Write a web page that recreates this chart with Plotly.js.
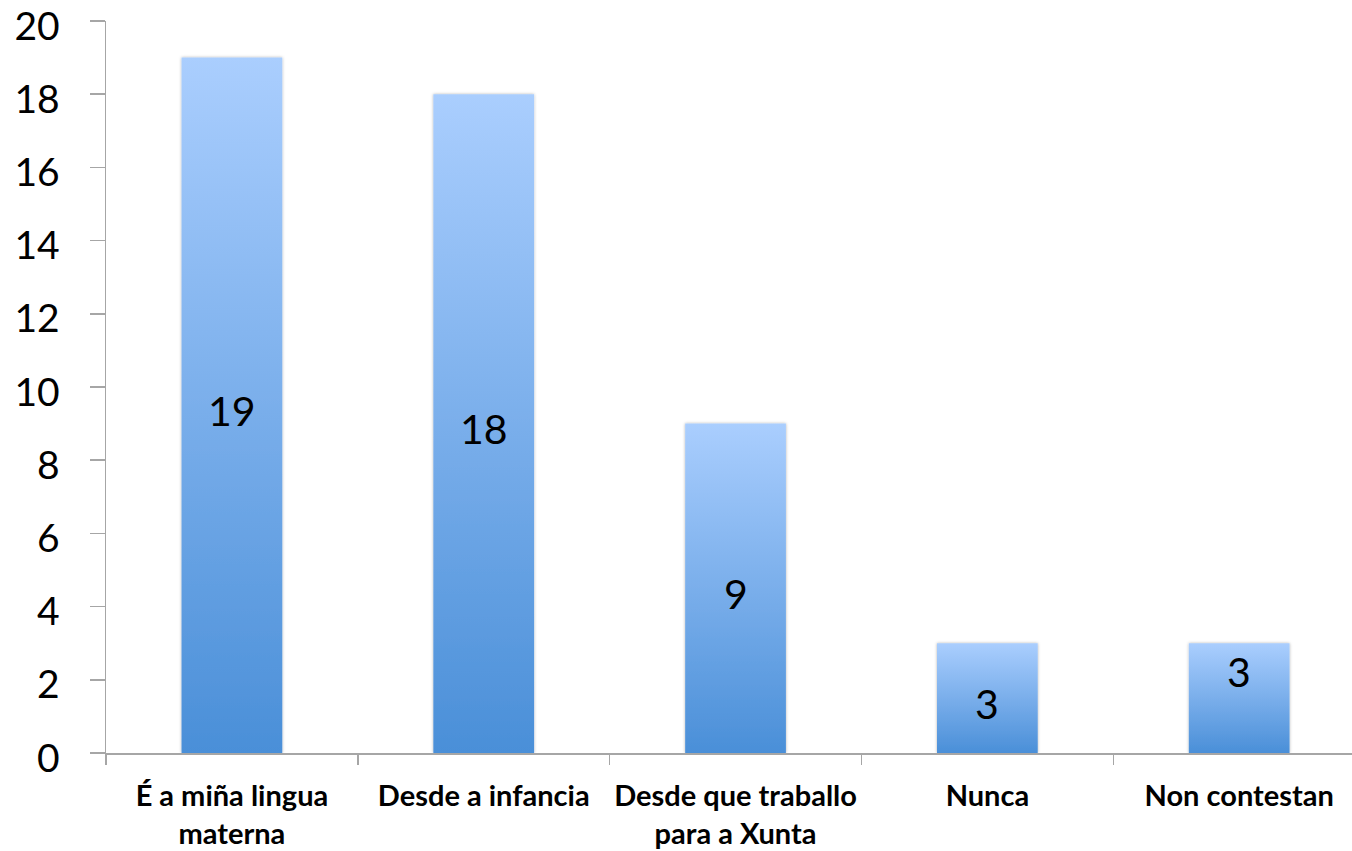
<!DOCTYPE html>
<html>
<head>
<meta charset="utf-8">
<script src="https://cdn.plot.ly/plotly-3.0.1.min.js"></script>
<style>
html,body{margin:0;padding:0;background:#fff;}
#chart{width:1352px;height:851px;}
</style>
</head>
<body>
<div id="chart"></div>
<script>
const categories = ["É a miña lingua<br>materna", "Desde a infancia", "Desde que traballo<br>para a Xunta", "Nunca", "Non contestan"];
const values = [19, 18, 9, 3, 3];
const labelPlacement = ["center", "center", "center", "center", "top"];
const yTickValues = [0, 2, 4, 6, 8, 10, 12, 14, 16, 18, 20];

const trace = {
  type: "bar",
  x: categories,
  y: values,
  width: 0.4,
  marker: {color: "#7aaeea", line: {width: 0}},
  hoverinfo: "none"
};

const annotations = values.map((v, i) => {
  const top = labelPlacement[i] === "top";
  return {
    x: categories[i],
    y: top ? v : v / 2,
    xref: "x", yref: "y",
    yanchor: top ? "top" : "middle",
    yshift: top ? -2 : -5,
    text: String(v),
    showarrow: false,
    font: {family: "Lato, 'Open Sans', sans-serif", size: 41, color: "#000"}
  };
});

const layout = {
  width: 1352, height: 851,
  margin: {l: 106, r: 0, t: 21, b: 98, pad: 0},
  paper_bgcolor: "#fff",
  plot_bgcolor: "#fff",
  showlegend: false,
  bargap: 0.6,
  xaxis: {
    type: "category",
    range: [-0.5, 4.448],
    showline: true, linecolor: "#a6a6a6", linewidth: 1.5,
    ticks: "outside", tickson: "boundaries", ticklen: 10, tickcolor: "#a6a6a6", tickwidth: 1.5,
    showgrid: false, zeroline: false,
    tickangle: 0,
    ticklabelstandoff: 17,
    ticklabeloverflow: "allow",
    tickfont: {family: "Lato, 'Open Sans', sans-serif", size: 29, color: "#000", weight: 700}
  },
  yaxis: {
    range: [0, 20],
    tickvals: yTickValues,
    ticktext: yTickValues.map(String),
    showline: true, linecolor: "#a6a6a6", linewidth: 1.5,
    ticks: "outside", ticklen: 15, tickcolor: "#a6a6a6", tickwidth: 1.5,
    showgrid: false, zeroline: false,
    ticklabelstandoff: 22,
    ticklabelshift: 5,
    ticklabeloverflow: "allow",
    tickfont: {family: "Lato, 'Open Sans', sans-serif", size: 39, color: "#000"}
  },
  annotations: annotations
};

Plotly.newPlot("chart", [trace], layout, {staticPlot: true, displayModeBar: false}).then(gd => {
  const svg = gd.querySelector("svg.main-svg");
  const ns = "http://www.w3.org/2000/svg";
  let defs = svg.querySelector("defs");
  if (!defs) { defs = document.createElementNS(ns, "defs"); svg.insertBefore(defs, svg.firstChild); }
  const grad = document.createElementNS(ns, "linearGradient");
  grad.setAttribute("id", "barGrad");
  grad.setAttribute("x1", "0"); grad.setAttribute("y1", "0");
  grad.setAttribute("x2", "0"); grad.setAttribute("y2", "1");
  [["0", "#aacefe"], ["1", "#4a8fd8"]].forEach(([o, c]) => {
    const s = document.createElementNS(ns, "stop");
    s.setAttribute("offset", o); s.setAttribute("stop-color", c);
    grad.appendChild(s);
  });
  defs.appendChild(grad);
  const filt = document.createElementNS(ns, "filter");
  filt.setAttribute("id", "barShadow");
  filt.setAttribute("x", "-10%"); filt.setAttribute("y", "-10%");
  filt.setAttribute("width", "120%"); filt.setAttribute("height", "120%");
  const ds = document.createElementNS(ns, "feDropShadow");
  ds.setAttribute("dx", "0"); ds.setAttribute("dy", "0");
  ds.setAttribute("stdDeviation", "1.5");
  ds.setAttribute("flood-color", "#000"); ds.setAttribute("flood-opacity", "0.3");
  filt.appendChild(ds);
  defs.appendChild(filt);
  gd.querySelectorAll(".barlayer .point path").forEach(p => {
    p.style.fill = "url(#barGrad)";
    p.setAttribute("filter", "url(#barShadow)");
  });
});
</script>
</body>
</html>
